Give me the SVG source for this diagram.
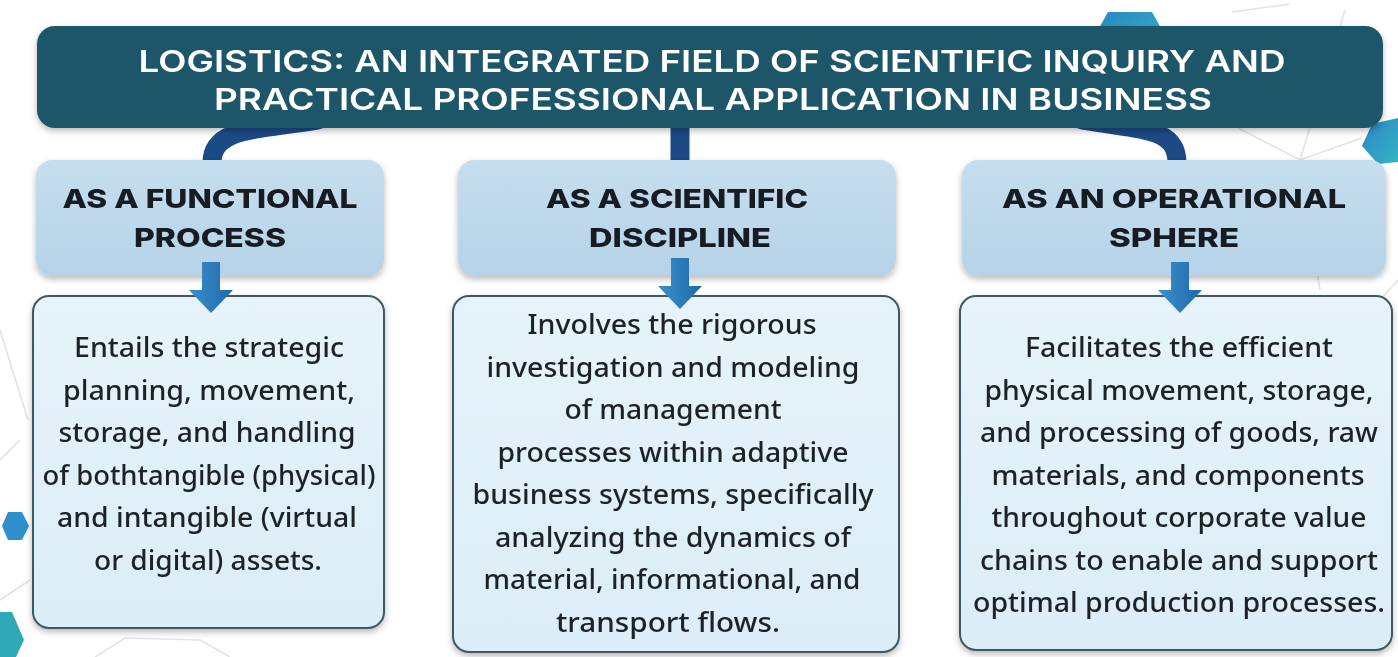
<svg xmlns="http://www.w3.org/2000/svg" width="1398" height="657" viewBox="0 0 1398 657">
<style>
.title{font-family:Inter,"Liberation Sans",sans-serif;font-weight:600;font-size:30px;fill:#ffffff;text-anchor:middle}
.head{font-family:Inter,"Liberation Sans",sans-serif;font-weight:800;font-size:26px;fill:#141b24;text-anchor:middle}
.body{font-family:"Noto Sans","Open Sans",sans-serif;font-weight:500;font-size:27px;fill:#1e2228;text-anchor:middle}
.hbox{fill:url(#hgrad)}
.dbox{fill:url(#dgrad);stroke:#3f5866;stroke-width:2}
.conn{fill:none;stroke:#1c4a86;stroke-width:19;stroke-linecap:round}
.arrow{fill:url(#agrad)}
.deco{fill:none;stroke:#dfe4e8;stroke-width:1.6}
</style>
<defs>
<linearGradient id="hgrad" x1="0" y1="0" x2="0" y2="1">
<stop offset="0" stop-color="#c6deee"/>
<stop offset="1" stop-color="#b5d3e8"/>
</linearGradient>
<linearGradient id="dgrad" x1="0" y1="0" x2="0" y2="1">
<stop offset="0" stop-color="#e6f3fa"/>
<stop offset="1" stop-color="#dbedf7"/>
</linearGradient>
<linearGradient id="agrad" x1="0" y1="0" x2="1" y2="0">
<stop offset="0" stop-color="#3c8fcd"/>
<stop offset="1" stop-color="#1f69a7"/>
</linearGradient>
<linearGradient id="hexgrad" x1="0" y1="0" x2="1" y2="1">
<stop offset="0" stop-color="#2b86c4"/>
<stop offset="1" stop-color="#36b3c4"/>
</linearGradient>
<filter id="shadow" x="-5%" y="-10%" width="110%" height="130%">
<feDropShadow dx="0" dy="3" stdDeviation="3" flood-color="#000" flood-opacity="0.28"/>
</filter>
</defs>
<rect width="1398" height="657" fill="#ffffff"/>
<g id="decoration">
<path class="deco" d="M1232 12 L1290 4 M1345 10 L1300 160 M1238 128 L1300 160 L1362 138 M1300 160 L1320 290 M0 330 L28 420 M0 460 L20 440 M0 600 L30 580 M95 657 L125 638 L200 640 L230 657 M1380 300 L1398 280"/>
<polygon points="1108,12 1152,12 1162,30 1152,48 1108,48 1098,30" fill="url(#hexgrad)"/>
<polygon points="1372,124 1398,118 1398,162 1378,164 1362,146" fill="url(#hexgrad)"/>
<polygon points="8,512 22,512 29,526 22,540 8,540 2,526" fill="#2e8fcc"/>
<polygon points="0,612 12,612 24,640 16,657 0,657" fill="#2fa9b8"/>
</g>
<g id="connectors">
<path class="conn" d="M318 120 C262 130 212 126 212 163"/>
<path class="conn" d="M680 118 L680 163"/>
<path class="conn" d="M1082 120 C1138 130 1177 126 1177 163"/>
</g>
<g id="title" filter="url(#shadow)">
<rect x="37" y="26" width="1346" height="102" rx="18" fill="#1d5668"/>
<text class="title" x="712" y="72" textLength="1147" lengthAdjust="spacingAndGlyphs">LOGISTICS: AN INTEGRATED FIELD OF SCIENTIFIC INQUIRY AND</text>
<text class="title" x="713" y="110" textLength="998" lengthAdjust="spacingAndGlyphs">PRACTICAL PROFESSIONAL APPLICATION IN BUSINESS</text>
</g>
<g id="head-functional" filter="url(#shadow)">
<rect class="hbox" x="36" y="160" width="348" height="116" rx="16"/>
<text class="head" x="210" y="208" textLength="295" lengthAdjust="spacingAndGlyphs">AS A FUNCTIONAL</text>
<text class="head" x="210" y="247" textLength="152" lengthAdjust="spacingAndGlyphs">PROCESS</text>
</g>
<g id="head-scientific" filter="url(#shadow)">
<rect class="hbox" x="458" y="160" width="438" height="116" rx="16"/>
<text class="head" x="677" y="208" textLength="262" lengthAdjust="spacingAndGlyphs">AS A SCIENTIFIC</text>
<text class="head" x="680" y="247" textLength="182" lengthAdjust="spacingAndGlyphs">DISCIPLINE</text>
</g>
<g id="head-operational" filter="url(#shadow)">
<rect class="hbox" x="962" y="160" width="424" height="116" rx="16"/>
<text class="head" x="1174" y="208" textLength="344" lengthAdjust="spacingAndGlyphs">AS AN OPERATIONAL</text>
<text class="head" x="1174" y="247" textLength="130" lengthAdjust="spacingAndGlyphs">SPHERE</text>
</g>
<g id="desc-functional" filter="url(#shadow)">
<rect class="dbox" x="33" y="296" width="351" height="332" rx="16"/>
<text class="body" x="209" y="357" textLength="270" lengthAdjust="spacingAndGlyphs">Entails the strategic</text>
<text class="body" x="209" y="399.5" textLength="292" lengthAdjust="spacingAndGlyphs">planning, movement,</text>
<text class="body" x="207" y="442" textLength="297" lengthAdjust="spacingAndGlyphs">storage, and handling</text>
<text class="body" x="209" y="484.5" textLength="333" lengthAdjust="spacingAndGlyphs">of bothtangible (physical)</text>
<text class="body" x="207" y="527" textLength="300" lengthAdjust="spacingAndGlyphs">and intangible (virtual</text>
<text class="body" x="208" y="569.5" textLength="228" lengthAdjust="spacingAndGlyphs">or digital) assets.</text>
</g>
<g id="desc-scientific" filter="url(#shadow)">
<rect class="dbox" x="453" y="296" width="446" height="356" rx="16"/>
<text class="body" x="672" y="334" textLength="289" lengthAdjust="spacingAndGlyphs">Involves the rigorous</text>
<text class="body" x="673" y="376.5" textLength="373" lengthAdjust="spacingAndGlyphs">investigation and modeling</text>
<text class="body" x="673" y="419" textLength="217" lengthAdjust="spacingAndGlyphs">of management</text>
<text class="body" x="673" y="461.5" textLength="351" lengthAdjust="spacingAndGlyphs">processes within adaptive</text>
<text class="body" x="673" y="504" textLength="401" lengthAdjust="spacingAndGlyphs">business systems, specifically</text>
<text class="body" x="673" y="546.5" textLength="356" lengthAdjust="spacingAndGlyphs">analyzing the dynamics of</text>
<text class="body" x="672" y="589" textLength="377" lengthAdjust="spacingAndGlyphs">material, informational, and</text>
<text class="body" x="668" y="631.5" textLength="224" lengthAdjust="spacingAndGlyphs">transport flows.</text>
</g>
<g id="desc-operational" filter="url(#shadow)">
<rect class="dbox" x="960" y="296" width="432" height="354" rx="16"/>
<text class="body" x="1179" y="357" textLength="308" lengthAdjust="spacingAndGlyphs">Facilitates the efficient</text>
<text class="body" x="1179" y="399.5" textLength="389" lengthAdjust="spacingAndGlyphs">physical movement, storage,</text>
<text class="body" x="1179" y="442" textLength="398" lengthAdjust="spacingAndGlyphs">and processing of goods, raw</text>
<text class="body" x="1178" y="484.5" textLength="373" lengthAdjust="spacingAndGlyphs">materials, and components</text>
<text class="body" x="1179" y="527" textLength="375" lengthAdjust="spacingAndGlyphs">throughout corporate value</text>
<text class="body" x="1179" y="569.5" textLength="398" lengthAdjust="spacingAndGlyphs">chains to enable and support</text>
<text class="body" x="1179" y="612" textLength="412" lengthAdjust="spacingAndGlyphs">optimal production processes.</text>
</g>
<g id="arrows">
<path class="arrow" d="M202 262 H220 V290 H233 L211 313 L189 290 H202 Z"/>
<path class="arrow" d="M671 258 H689 V286 H702 L680 309 L658 286 H671 Z"/>
<path class="arrow" d="M1171 262 H1189 V290 H1202 L1180 313 L1158 290 H1171 Z"/>
</g>
</svg>
